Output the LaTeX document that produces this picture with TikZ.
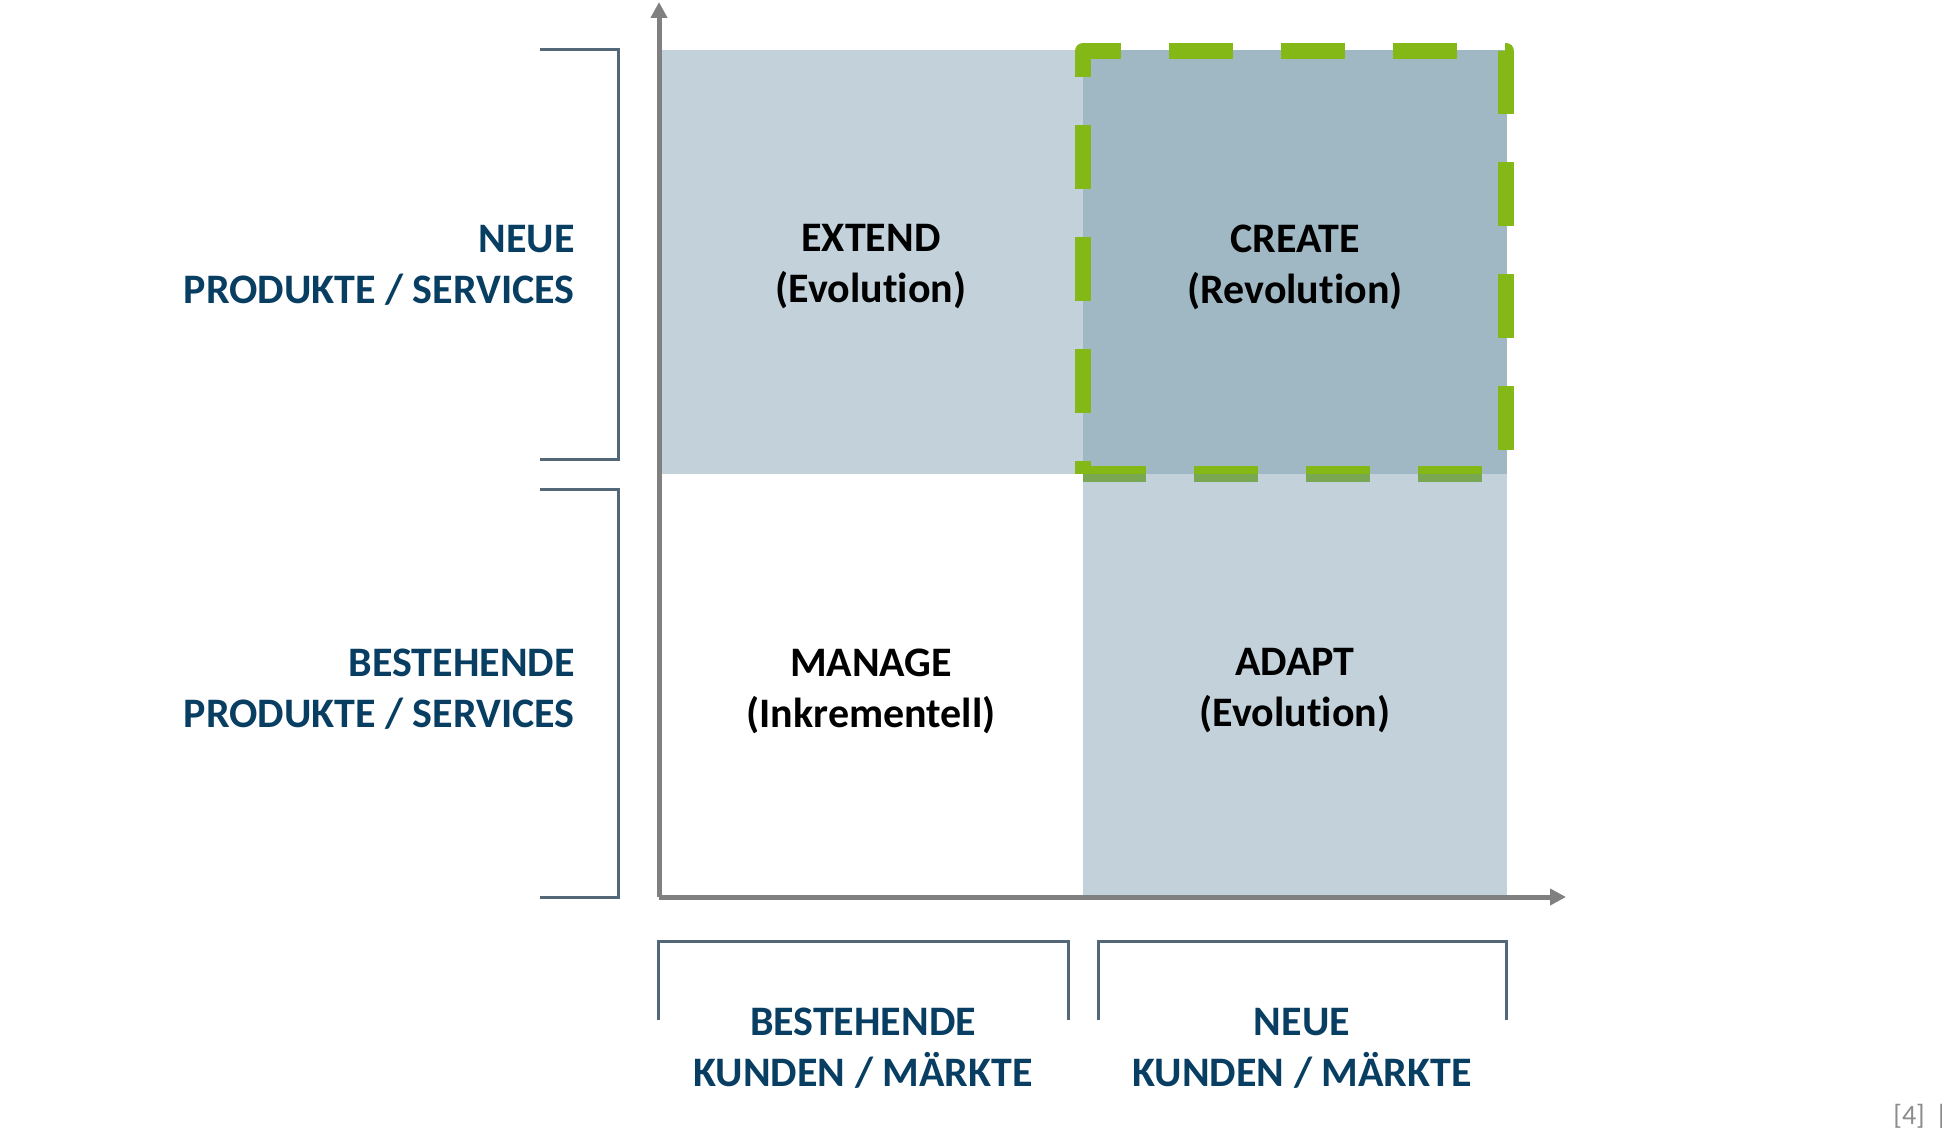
\documentclass[tikz,border=0pt]{standalone}
\usepackage{fontspec}
\setmainfont{Carlito}[Ligatures={NoCommon,NoContextual}]
\usepackage{xcolor}
\usepackage{tikz}
\usetikzlibrary{arrows.meta,positioning,calc}
\definecolor{quad-blue}{RGB}{110,147,166}
\definecolor{label-blue}{RGB}{9,62,99}
\definecolor{frame-green}{RGB}{132,184,23}
\definecolor{axis-gray}{RGB}{128,128,128}
\definecolor{bracket-gray}{RGB}{82,103,120}
\definecolor{note-gray}{RGB}{140,140,140}

\begin{document}
\begin{tikzpicture}[x=0.5pt, y=-0.5pt,
  every node/.style={font=\fontsize{21}{25.5}\selectfont\bfseries, align=center, inner sep=0pt},
  quadfill/.style={fill=quad-blue, fill opacity=0.415, draw=none},
  bracketline/.style={draw=bracket-gray, line width=1.5pt},
  axisline/.style={draw=axis-gray, line width=2.5pt, -{Triangle[length=8pt,width=8pt]}}]
  \useasboundingbox (0,0) rectangle (1942,1128);

  % Quadrants
  \fill[quadfill] (659,50) rectangle (1507,474);
  \fill[quadfill] (1083,50) rectangle (1507,474);

  % Green frame round CREATE
  \draw[frame-green, line width=8pt, line join=round, dash pattern=on 32pt off 24pt, dash phase=25.5pt]
    (1083,474) -- (1083,51) -- (1506,51) -- (1506,474) -- cycle;

  \fill[quadfill] (1083,474) rectangle (1507,897);

  \node (extend) at (871,267) {EXTEND\\(Evolution)};
  \node (create) at (1295,267) {CREATE\\(Revolution)};
  \node (manage) at (871,691) {MANAGE\\(Inkrementell)};
  \node (adapt) at (1295,691) {ADAPT\\(Evolution)};

  % Axes
  \coordinate (origin) at (659,897);
  \coordinate (ytip) at (659,2);
  \coordinate (xtip) at (1566,897);
  \draw[axisline] (origin) -- (ytip);
  \draw[axisline] (origin) -- (xtip);

  % Left brackets
  \draw[bracketline] (540,50) -- (618,50) -- (618,459) -- (540,459);
  \draw[bracketline] (540,489) -- (618,489) -- (618,897) -- (540,897);
  \node[anchor=east, align=right, text=label-blue] (newprod) at (575,265) {NEUE\\PRODUKTE / SERVICES};
  \node[anchor=east, align=right, text=label-blue] (oldprod) at (575,689) {BESTEHENDE\\PRODUKTE / SERVICES};

  % Bottom brackets
  \draw[bracketline] (658,1020) -- (658,941) -- (1068,941) -- (1068,1020);
  \draw[bracketline] (1098,1020) -- (1098,941) -- (1506,941) -- (1506,1020);
  \node[text=label-blue] (oldmarket) at (863,1048) {BESTEHENDE\\KUNDEN / MÄRKTE};
  \node[text=label-blue] (newmarket) at (1302,1048) {NEUE\\KUNDEN / MÄRKTE};

  % Page note
  \node[anchor=base west, font=\fontsize{14}{16}\selectfont, text=note-gray] (pagenote) at (1893,1124) {[4]\hspace{5pt}|};
\end{tikzpicture}
\end{document}
